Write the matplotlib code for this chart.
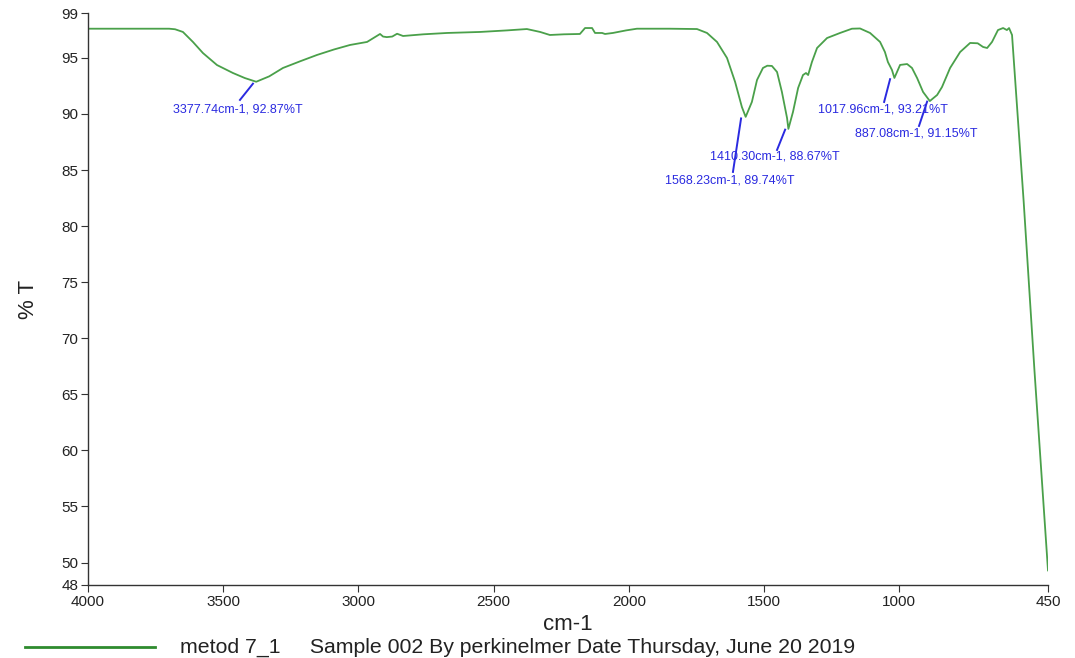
import matplotlib
matplotlib.use("Agg")
import matplotlib.pyplot as plt
from matplotlib.lines import Line2D

# ---- data ----
wavenumber = [4000, 3900, 3800, 3700, 3678, 3649, 3612, 3575, 3523, 3464, 3420, 3378,
              3330, 3279, 3215, 3153, 3090, 3031, 2968, 2920, 2909, 2895, 2875, 2857,
              2835, 2760, 2672, 2550, 2450, 2377, 2328, 2292, 2240, 2181, 2162, 2136,
              2125, 2099, 2088, 2059, 2010, 1970, 1850, 1748, 1711, 1674, 1637, 1607,
              1582, 1568, 1545, 1526, 1504, 1488, 1471, 1452, 1434, 1415, 1410, 1393,
              1374, 1356, 1345, 1337, 1323, 1304, 1267, 1219, 1175, 1145, 1108, 1071,
              1053, 1042, 1027, 1018, 997, 971, 953, 934, 912, 887, 860, 842,
              812, 775, 738, 710, 690, 675, 657, 635, 616, 602, 594, 583,
              540, 500, 450]
transmittance = [97.6, 97.6, 97.6, 97.6, 97.55, 97.31, 96.42, 95.43, 94.36, 93.65, 93.2, 92.87,
                 93.35, 94.1, 94.7, 95.26, 95.75, 96.15, 96.42, 97.13, 96.9, 96.85, 96.9, 97.15,
                 96.95, 97.1, 97.22, 97.31, 97.45, 97.57, 97.31, 97.04, 97.1, 97.13, 97.66, 97.66,
                 97.22, 97.22, 97.13, 97.22, 97.45, 97.6, 97.6, 97.57, 97.22, 96.42, 94.99, 92.85,
                 90.62, 89.74, 91.07, 93.03, 94.1, 94.3, 94.28, 93.74, 91.96, 89.64, 88.67, 90.18,
                 92.32, 93.47, 93.65, 93.47, 94.63, 95.88, 96.77, 97.22, 97.6, 97.62, 97.22, 96.42,
                 95.52, 94.63, 93.92, 93.21, 94.37, 94.45, 94.1, 93.2, 91.96, 91.15, 91.69, 92.4,
                 94.1, 95.52, 96.33, 96.3, 95.97, 95.88, 96.42, 97.48, 97.66, 97.48, 97.66, 97.04,
                 82.2, 67.1, 49.3]

peak_labels = ["3377.74cm-1, 92.87%T", "1568.23cm-1, 89.74%T", "1410.30cm-1, 88.67%T",
               "1017.96cm-1, 93.21%T", "887.08cm-1, 91.15%T"]
# leader line start/end (wavenumber, %T) and text left anchor
leader_start = [(3390, 92.7), (1585, 89.6), (1422, 88.6), (1034, 93.1), (897, 91.1)]
leader_end = [(3438, 91.25), (1615, 84.83), (1452, 86.79), (1056, 91.07), (927, 88.93)]
text_anchor = [(3686, 90.44), (1866, 84.03), (1700, 86.17), (1300, 90.44), (1164, 88.3)]

xticks = [4000, 3500, 3000, 2500, 2000, 1500, 1000, 450]
yticks = [48, 50, 55, 60, 65, 70, 75, 80, 85, 90, 95, 99]

legend_text = "metod 7_1     Sample 002 By perkinelmer Date Thursday, June 20 2019"

# ---- plot ----
fig = plt.figure(figsize=(10.75, 6.58), dpi=100)
ax = fig.add_axes([88/1075, 1-585/658, (1048-88)/1075, (585-13)/658])

line_color = "#4aa04a"
ax.plot(wavenumber, transmittance, color=line_color, lw=1.3)

ax.set_xlim(4000, 450)
ax.set_ylim(48, 99)
ax.set_xticks(xticks)
ax.set_xticklabels([str(v) for v in xticks])
ax.set_yticks(yticks)
ax.set_yticklabels([str(v) for v in yticks])

for s in ["top", "right"]:
    ax.spines[s].set_visible(False)
for s in ["left", "bottom"]:
    ax.spines[s].set_color("#333333")
    ax.spines[s].set_linewidth(1.0)

fam = ["Liberation Sans", "DejaVu Sans"]
ax.tick_params(axis="both", direction="out", length=5, color="#333333", labelsize=11,
               labelcolor="#222222", pad=2)
for lab in ax.get_xticklabels() + ax.get_yticklabels():
    lab.set_family(fam)

ax.set_xlabel("cm-1", fontsize=16, family=fam, color="#222222", labelpad=4)
ax.set_ylabel("% T", fontsize=16, family=fam, color="#222222", labelpad=16)

blue = "#2a2ae0"
for lab, (sx, sy), (ex, ey), (tx, ty) in zip(peak_labels, leader_start, leader_end, text_anchor):
    ax.plot([sx, ex], [sy, ey], color=blue, lw=1.4)
    ax.text(tx, ty, lab, color=blue, fontsize=9, family=fam, ha="left", va="center")

# legend line and text below
fig.add_artist(Line2D([25/1075, 155/1075], [1-647/658, 1-647/658], color="#2e8b2e", lw=2,
                      transform=fig.transFigure))
fig.text(180/1075, 1-647/658, legend_text, fontsize=15.3, family=fam, color="#222222",
         va="center", ha="left")

fig.savefig("out.png", dpi=100)
